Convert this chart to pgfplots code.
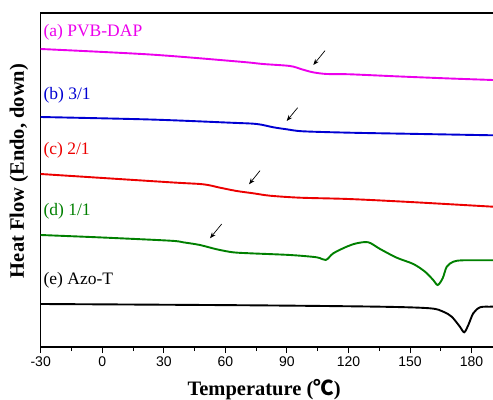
\documentclass[border=0pt]{standalone}
\usepackage{fontspec}
\setmainfont{Liberation Serif}
\setsansfont{Liberation Sans}
\newfontfamily\cjk{Noto Sans CJK SC}
\usepackage{pgfplots}
\pgfplotsset{compat=1.18}
\usetikzlibrary{arrows.meta}
\definecolor{cmag}{RGB}{236,0,236}
\definecolor{cblue}{RGB}{0,0,210}
\definecolor{cred}{RGB}{236,0,0}
\definecolor{cgreen}{RGB}{0,128,0}
\begin{document}
\begin{tikzpicture}
\begin{axis}[
  scale only axis, width=454.5bp, height=334bp,
  at={(0,0)}, anchor=south west,
  xmin=-30, xmax=191.5, ymin=0, ymax=334,
  xtick={-30,0,30,60,90,120,150,180},
  minor x tick num=1,
  xtick pos=left,
  tick align=outside,
  major tick length=6bp, minor tick length=4bp,
  ytick=\empty,
  axis line style={line width=1.3bp},
  every tick/.style={black, line width=1bp},
  /pgf/number format/assume math mode=true,
  ticklabel style={font=\sffamily\fontsize{14bp}{16bp}\selectfont},
  xlabel={\bfseries Temperature ({\cjk\bfseries ℃})},
  ylabel={\bfseries Heat Flow (Endo, down)},
  label style={font=\fontsize{20.5bp}{24bp}\selectfont},
  xlabel style={at={(axis description cs:0.4915,-0.1467)}, anchor=base},
  ylabel style={at={(axis description cs:-0.037,0.527)}, anchor=base, rotate=0},
  every axis plot/.append style={line width=1.9bp, smooth, tension=0.5, no markers},
]
% (a) PVB-DAP
\addplot[cmag] coordinates {
 (-30,298) (23.3,292.5) (67.1,285.3) (78.3,283) (91.5,281) (97.2,277.7)
 (102.7,274.7) (109.4,273) (120.7,272.7) (145.1,270.5) (169.5,268.5) (190.4,267)};
% (b) 3/1
\addplot[cblue] coordinates {
 (-30,230) (23.3,227.5) (62.4,224.3) (75.3,223) (83.4,219.7) (89.9,217.7)
 (97.8,215.7) (120.7,214.3) (150,213.2) (190.4,211.7)};
% (c) 2/1
\addplot[cred] coordinates {
 (-30,173) (33.1,164.7) (49.2,162.7) (57.4,159.3) (65.5,156) (73.6,153.7)
 (81.7,151.3) (96.4,149.3) (120,148) (150,145) (190.4,140.3)};
% (d) 1/1
\addplot[cgreen] coordinates {
 (-30,112) (0,109.5) (33.1,106.3) (39.4,104.7) (47.6,102) (55.8,97.7) (63.7,94.7)
 (72,93.7) (91.5,92) (104.5,89.7) (108.9,87) (112.6,93.7) (119.1,100.3)
 (124,103.7) (129.7,104.7) (135.4,98) (143.5,89.3) (151.6,83) (157.3,75.3)
 (161.3,67) (163.5,62) (165.9,68.7) (167.9,80.3) (171.1,85.3) (175.9,86.7) (190.4,86.7)};
% (e) Azo-T
\addplot[black] coordinates {
 (-30,43) (72,41.7) (135.4,40.3) (159.7,38.7) (166.2,35.3) (170.3,30.3)
 (174.3,20.3) (176.4,14.7) (178.4,22) (180.8,33.7) (184.1,39.7) (189,40.3) (190.4,40.3)};
% labels
\begin{scope}[every node/.style={anchor=base west, inner sep=0pt, font=\fontsize{17.5bp}{20bp}\selectfont}]
\node[text=cmag] at (axis cs:-28.7,310.3) {(a) PVB-DAP};
\node[text=cblue] at (axis cs:-28.7,247) {(b) 3/1};
\node[text=cred] at (axis cs:-28.7,192) {(c) 2/1};
\node[text=cgreen] at (axis cs:-28.7,131.7) {(d) 1/1};
\node[text=black] at (axis cs:-28.7,62.5) {(e) Azo-T};
\end{scope}
% arrows
\begin{scope}[-{Stealth[length=6bp,width=4.5bp]}, line width=0.7bp]
\draw (axis cs:108.55,296.3) -- (axis cs:102.85,282);
\draw (axis cs:95.24,239.3) -- (axis cs:89.88,226);
\draw (axis cs:76.87,176.3) -- (axis cs:71.51,162.7);
\draw (axis cs:58.2,123) -- (axis cs:52.5,108.7);
\end{scope}
\end{axis}
\pgfresetboundingbox
\path[use as bounding box] (-40.7bp,-53bp) rectangle (452.3bp,347bp);
\end{tikzpicture}
\end{document}
